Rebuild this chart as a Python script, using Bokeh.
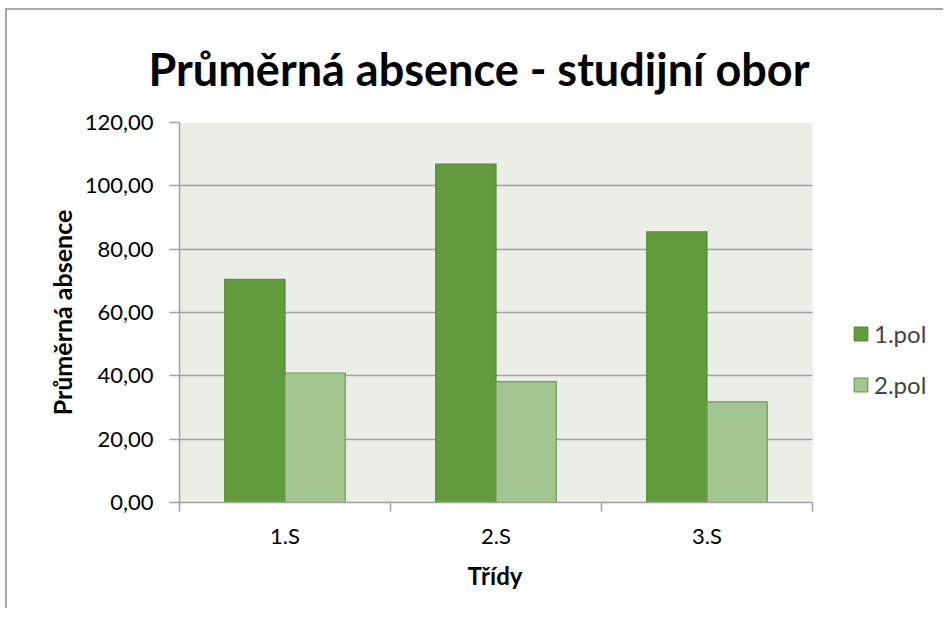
from bokeh.plotting import figure
from bokeh.models import (Range1d, FixedTicker, Legend, LegendItem, ColumnDataSource,
                          BoxAnnotation, Title)
from bokeh.embed import file_html
from bokeh.resources import INLINE

# ---- data ----
classes = ["1.S", "2.S", "3.S"]
pol1 = [70.5, 106.9, 85.5]
pol2 = [40.9, 38.2, 31.8]
series_names = ["1.pol", "2.pol"]
y_ticks = [0, 20, 40, 60, 80, 100, 120]
y_tick_labels = ["0,00", "20,00", "40,00", "60,00", "80,00", "100,00", "120,00"]
x_title = "Třídy"
y_title = "Průměrná absence"
chart_title = "Průměrná absence - studijní obor"

FONT = "Lato"
dark = "#629A3E"
light = "#A3C590"
GRID = "#A0A0A0"

n = len(classes)
idx = list(range(n))
bar_w = 1 / 3.5
src1 = ColumnDataSource(dict(x=[i + 0.5 - bar_w / 2 for i in idx], top=pol1))
src2 = ColumnDataSource(dict(x=[i + 0.5 + bar_w / 2 for i in idx], top=pol2))

# frame spans to the right edge so the legend can sit beside the plot area;
# the plot area itself (0..n) is painted with a BoxAnnotation
x_end = n * 766 / 633
p = figure(width=938, height=600, output_backend="svg", toolbar_location=None,
           x_range=Range1d(0, x_end), y_range=Range1d(0, 120),
           min_border_left=172, min_border_right=0, min_border_top=112,
           min_border_bottom=108)
p.styles = {"border-left": "2px solid #a6a6a6", "border-top": "2px solid #a6a6a6",
            "margin-left": "5px", "margin-top": "8px"}

p.background_fill_color = "white"
p.border_fill_color = "white"
p.outline_line_color = None

plot_area = BoxAnnotation(left=0, right=n, fill_color="#EAEEE7", fill_alpha=1,
                          line_color=None, level="image")
p.add_layout(plot_area)

r1 = p.vbar(x="x", top="top", width=bar_w, bottom=0, source=src1,
            fill_color=dark, line_color="#558A35", line_width=1.2)
r2 = p.vbar(x="x", top="top", width=bar_w, bottom=0, source=src2,
            fill_color=light, line_color="#6E9F52", line_width=1.2)

# title
p.title.text = chart_title
p.title.text_font = FONT
p.title.text_font_style = "bold"
p.title.text_font_size = "45px"
p.title.text_color = "black"
p.title.align = "left"
p.title.offset = -31
p.title.standoff = 54

# grid
p.xgrid.grid_line_color = None
p.ygrid.ticker = FixedTicker(ticks=y_ticks)
p.ygrid.grid_line_color = GRID
p.ygrid.grid_line_width = 1.5
try:
    p.ygrid.cross_bounds = (0, n)
except Exception:
    p.ygrid.grid_line_color = None
    p.segment(x0=[0] * len(y_ticks), x1=[n] * len(y_ticks), y0=y_ticks, y1=y_ticks,
              line_color=GRID, line_width=1.5, level="underlay")

# y axis
p.yaxis.ticker = FixedTicker(ticks=y_ticks)
p.yaxis.major_label_overrides = {t: l for t, l in zip(y_ticks, y_tick_labels)}
p.yaxis.axis_label = y_title
p.yaxis.axis_label_text_font = FONT
p.yaxis.axis_label_text_font_style = "bold"
p.yaxis.axis_label_text_font_size = "25px"
p.yaxis.axis_label_text_color = "black"
p.yaxis.major_label_text_font = FONT
p.yaxis.major_label_text_font_size = "22px"
p.yaxis.major_label_text_color = "black"
p.yaxis.axis_line_color = GRID
p.yaxis.axis_line_width = 1.5
p.yaxis.major_tick_line_color = GRID
p.yaxis.major_tick_line_width = 1.5
p.yaxis.major_tick_out = 10
p.yaxis.major_tick_in = 0
p.yaxis.minor_tick_line_color = None
p.yaxis.major_label_standoff = 16
p.yaxis.axis_label_standoff = 5

# x axis : labels at centres, ticks at category boundaries
centres = [i + 0.5 for i in idx]
bounds = list(range(n + 1))
p.xaxis.ticker = FixedTicker(ticks=centres, minor_ticks=bounds)
p.xaxis.bounds = (0, n)
p.xaxis.major_label_overrides = {c: name for c, name in zip(centres, classes)}
p.xaxis.major_label_text_font = FONT
p.xaxis.major_label_text_font_size = "22px"
p.xaxis.major_label_text_color = "black"
p.xaxis.axis_line_color = GRID
p.xaxis.axis_line_width = 1.5
p.xaxis.major_tick_line_color = None
p.xaxis.major_tick_out = 6
p.xaxis.minor_tick_line_color = GRID
p.xaxis.minor_tick_line_width = 1.5
p.xaxis.minor_tick_out = 9
p.xaxis.minor_tick_in = 0
p.xaxis.major_label_standoff = 10

# x-axis title, centred under the plot area (not under the wide frame)
xt = Title(text=x_title, align="left", offset=288, standoff=15,
           text_font=FONT, text_font_style="bold", text_font_size="24px",
           text_color="black")
p.add_layout(xt, "below")

legend = Legend(items=[LegendItem(label=series_names[0], renderers=[r1]),
                       LegendItem(label=series_names[1], renderers=[r2])],
                location=(673, 103))
legend.label_text_font = FONT
legend.label_text_font_size = "24px"
legend.glyph_width = 17
legend.glyph_height = 17
legend.label_standoff = 5
legend.spacing = 22
legend.padding = 0
legend.margin = 0
legend.border_line_color = None
legend.background_fill_alpha = 0
p.add_layout(legend, "center")

open("out.html", "w").write(file_html(p, INLINE))
